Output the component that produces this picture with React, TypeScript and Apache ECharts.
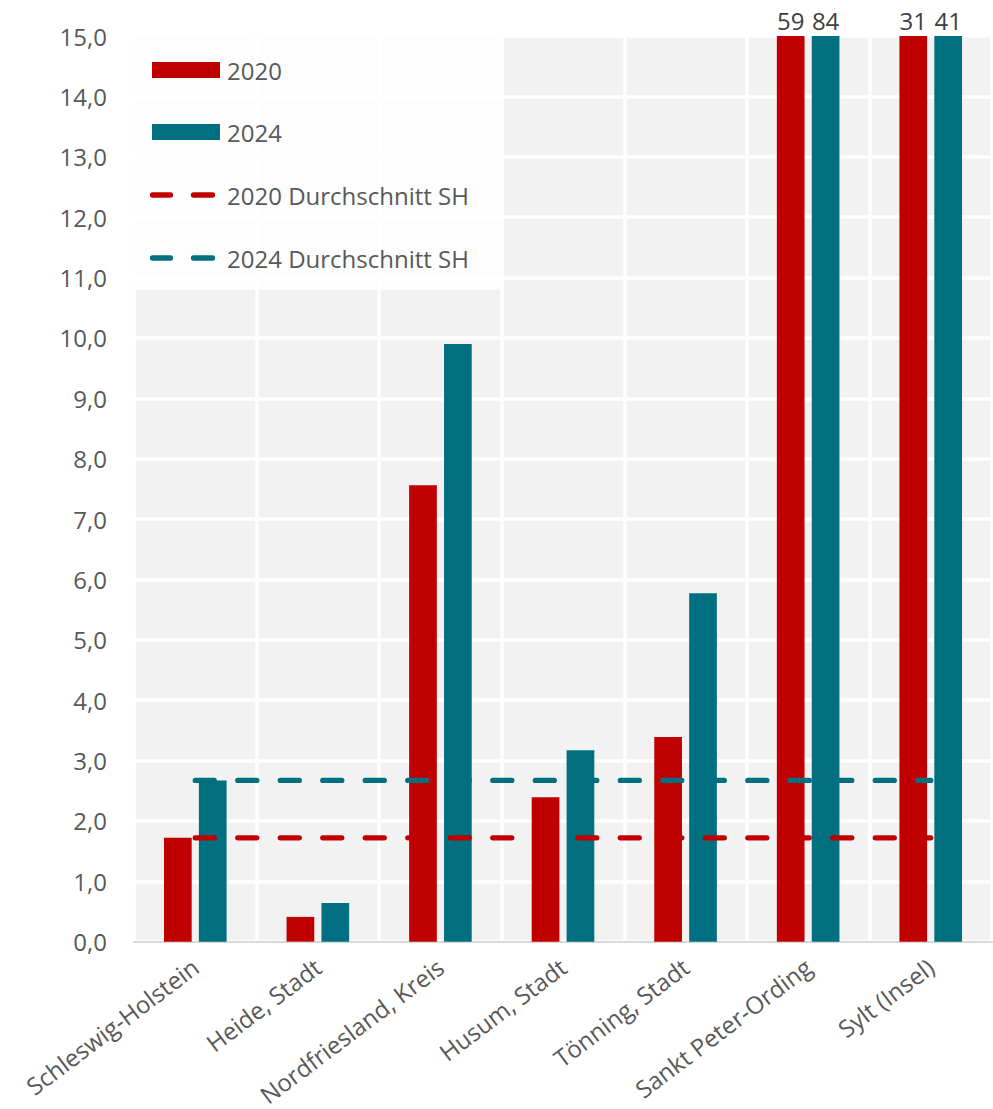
import React, { useEffect, useRef } from "react";
import * as echarts from "echarts";

const categories = [
  "Schleswig-Holstein",
  "Heide, Stadt",
  "Nordfriesland, Kreis",
  "Husum, Stadt",
  "Tönning, Stadt",
  "Sankt Peter-Ording",
  "Sylt (Insel)",
];
const values2020 = [1.72, 0.41, 7.56, 2.39, 3.39, 59, 31];
const values2024 = [2.67, 0.64, 9.9, 3.17, 5.77, 84, 41];
const avg2020 = [1.72, 1.72, 1.72, 1.72, 1.72, 1.72, 1.72];
const avg2024 = [2.67, 2.67, 2.67, 2.67, 2.67, 2.67, 2.67];
const yMin = 0;
const yMax = 15;
const yStep = 1;
const legendLabels = ["2020", "2024", "2020 Durchschnitt SH", "2024 Durchschnitt SH"];

const RED = "#c00000";
const TEAL = "#007081";
const TEXT = "#595959";
const FONT = "'Open Sans', 'Noto Sans', sans-serif";

function capped(vals: number[]) {
  return vals.map((v) => ({
    value: Math.min(v, yMax),
    label: {
      show: v > yMax,
      formatter: String(v),
    },
  }));
}

export default function App() {
  const ref = useRef<HTMLDivElement>(null);
  useEffect(() => {
    document.body.style.margin = "0";
    if (!ref.current) return;
    const chart = echarts.init(ref.current, undefined, { renderer: "svg" });
    const barLabel = {
      position: "top",
      distance: 4,
      color: "#404040",
      fontSize: 24,
      fontFamily: FONT,
    };
    chart.setOption({
      animation: false,
      backgroundColor: "#ffffff",
      grid: {
        left: 134,
        right: 1,
        top: 36,
        bottom: 166,
        show: true,
        backgroundColor: "#f2f2f2",
        borderWidth: 0,
        containLabel: false,
      },
      xAxis: {
        type: "category",
        data: categories,
        boundaryGap: true,
        axisLine: { show: true, lineStyle: { color: "#d9d9d9", width: 2 } },
        axisTick: { show: false },
        splitLine: { show: true, lineStyle: { color: "#ffffff", width: 3.5 } },
        axisLabel: {
          rotate: 37,
          margin: 22,
          color: TEXT,
          fontSize: 24,
          fontFamily: FONT,
          interval: 0,
        },
      },
      yAxis: {
        type: "value",
        min: yMin,
        max: yMax,
        interval: yStep,
        axisLine: { show: false },
        axisTick: { show: false },
        splitLine: { show: true, lineStyle: { color: "#ffffff", width: 3.5 } },
        axisLabel: {
          margin: 27,
          color: TEXT,
          fontSize: 24,
          fontFamily: FONT,
          formatter: (v: number) => v.toFixed(1).replace(".", ","),
        },
      },
      series: [
        {
          name: legendLabels[0],
          type: "bar",
          data: capped(values2020),
          barWidth: 27.7,
          barGap: "26%",
          itemStyle: { color: RED },
          label: barLabel,
        },
        {
          name: legendLabels[1],
          type: "bar",
          data: capped(values2024),
          barWidth: 27.7,
          barGap: "26%",
          itemStyle: { color: TEAL },
          label: barLabel,
        },
        {
          name: legendLabels[2],
          type: "line",
          data: avg2020,
          symbol: "none",
          z: 5,
          lineStyle: { color: RED, width: 5.3, type: [19, 23.5], cap: "round" },
        },
        {
          name: legendLabels[3],
          type: "line",
          data: avg2024,
          symbol: "none",
          z: 5,
          lineStyle: { color: TEAL, width: 5.3, type: [19, 23.5], cap: "round" },
        },
      ],
      graphic: [
        {
          type: "rect",
          z: 100,
          shape: { x: 136, y: 36, width: 364, height: 254 },
          style: { fill: "rgba(255,255,255,0.8)" },
        },
        { type: "rect", z: 101, shape: { x: 152, y: 62, width: 68, height: 16 }, style: { fill: RED } },
        { type: "rect", z: 101, shape: { x: 152, y: 124, width: 68, height: 16 }, style: { fill: TEAL } },
        { type: "line", z: 101, shape: { x1: 152.5, y1: 195, x2: 170.5, y2: 195 }, style: { stroke: RED, lineWidth: 5.3, lineCap: "round" } },
        { type: "line", z: 101, shape: { x1: 193.5, y1: 195, x2: 212.5, y2: 195 }, style: { stroke: RED, lineWidth: 5.3, lineCap: "round" } },
        { type: "line", z: 101, shape: { x1: 152.5, y1: 258, x2: 170.5, y2: 258 }, style: { stroke: TEAL, lineWidth: 5.3, lineCap: "round" } },
        { type: "line", z: 101, shape: { x1: 193.5, y1: 258, x2: 212.5, y2: 258 }, style: { stroke: TEAL, lineWidth: 5.3, lineCap: "round" } },
        ...legendLabels.map((t, i) => ({
          type: "text",
          z: 101,
          x: 227,
          y: [70, 132, 195, 258][i],
          style: {
            text: t,
            fill: TEXT,
            font: `24px ${FONT}`,
            textVerticalAlign: "middle",
            verticalAlign: "middle",
          },
        })),
      ],
    });
    return () => chart.dispose();
  }, []);
  return <div ref={ref} style={{ width: 993, height: 1109 }} />;
}
